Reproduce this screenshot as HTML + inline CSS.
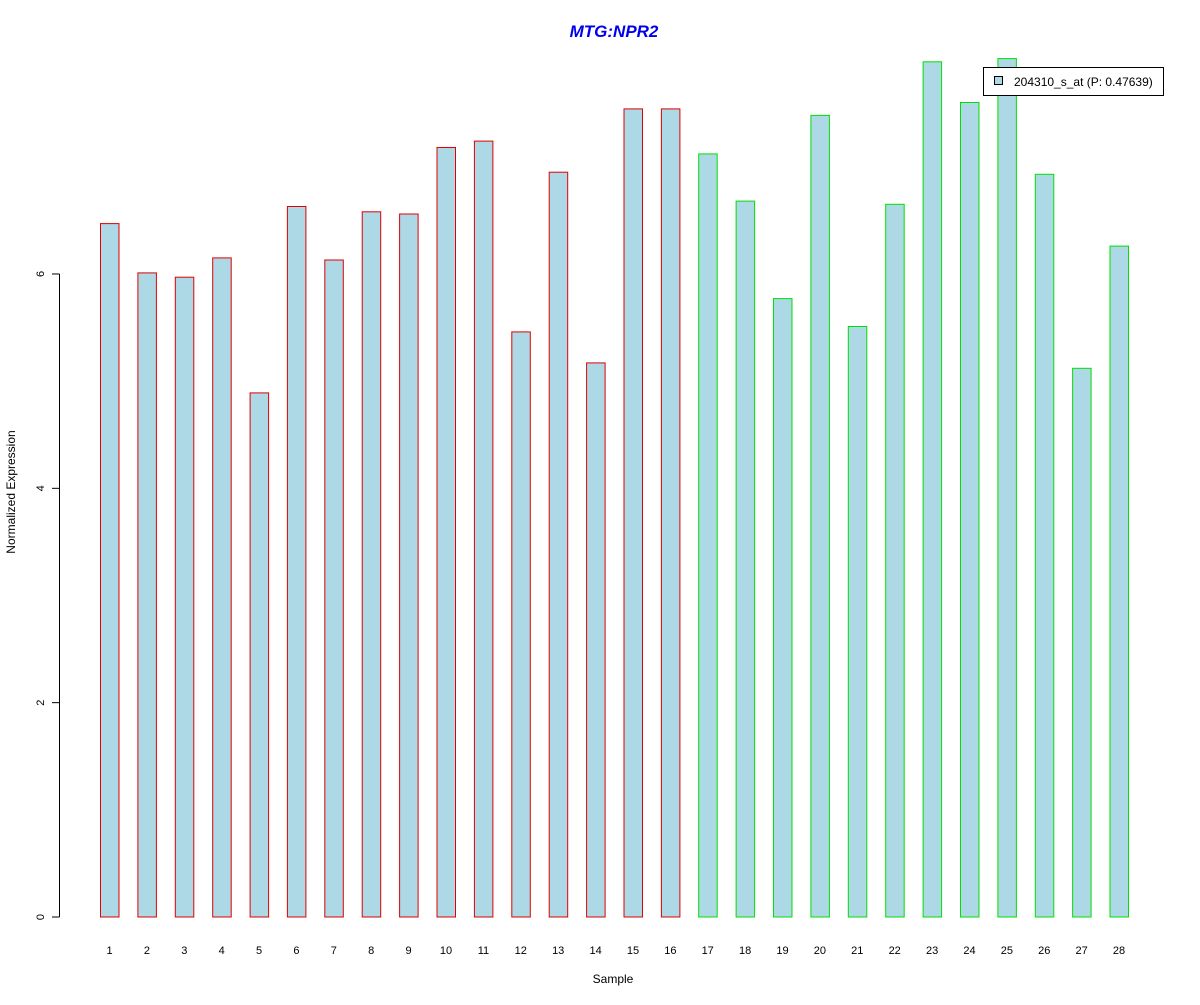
<!DOCTYPE html>
<html><head><meta charset="utf-8"><style>
body{margin:0;background:#fff;}
svg text{font-family:"Liberation Sans",Arial,sans-serif;}
</style></head><body>
<svg id="chart" width="1200" height="1000" xmlns="http://www.w3.org/2000/svg">
<rect width="1200" height="1000" fill="#fff"/>
<text x="614" y="37" text-anchor="middle" font-size="17" font-weight="bold" font-style="italic" fill="#0000ee">MTG:NPR2</text>
<text x="613" y="983" text-anchor="middle" font-size="12">Sample</text>
<text transform="translate(15,492) rotate(-90)" text-anchor="middle" font-size="12">Normalized Expression</text>
<g id="bars"></g>
<g id="yaxis"></g>
<g id="xlabels"></g>
<g>
<rect x="983.5" y="67.5" width="180" height="28" fill="#fff" stroke="#000"/>
<rect x="994.5" y="76.5" width="8" height="8" fill="#add8e6" stroke="#000"/>
<text x="1014" y="86" font-size="12">204310_s_at (P: 0.47639)</text>
</g>
</svg>
<script>
const categories=["1","2","3","4","5","6","7","8","9","10","11","12","13","14","15","16","17","18","19","20","21","22","23","24","25","26","27","28"];
const values=[6.47,6.01,5.97,6.15,4.89,6.63,6.13,6.58,6.56,7.18,7.24,5.46,6.95,5.17,7.54,7.54,7.12,6.68,5.77,7.48,5.51,6.65,7.98,7.60,8.01,6.93,5.12,6.26];
const groups=["r","r","r","r","r","r","r","r","r","r","r","r","r","r","r","r","g","g","g","g","g","g","g","g","g","g","g","g"];
const yTicks=[0,2,4,6];
const NS="http://www.w3.org/2000/svg";
const y=v=>917-v*107.17;
const xc=i=>109.5+i*37.39;
const bars=document.getElementById('bars');
values.forEach((v,i)=>{
  const r=document.createElementNS(NS,'rect');
  
  
  r.setAttribute('x',(xc(i)-9).toFixed(1));
  r.setAttribute('y',y(v).toFixed(1));
  r.setAttribute('width',18.5);
  r.setAttribute('height',(y(0)-y(v)).toFixed(1));
  r.setAttribute('fill','#add8e6');
  r.setAttribute('stroke',groups[i]==='r'?'#e00000':'#00e000');
  bars.appendChild(r);
  const t=document.createElementNS(NS,'text');
  
  
  t.setAttribute('x',xc(i).toFixed(1));
  t.setAttribute('y',954);
  t.setAttribute('text-anchor','middle');
  t.setAttribute('font-size','11');
  t.textContent=categories[i];
  document.getElementById('xlabels').appendChild(t);
});
const ya=document.getElementById('yaxis');
const ln=document.createElementNS(NS,'line');


ln.setAttribute('x1',59.5);ln.setAttribute('x2',59.5);
ln.setAttribute('y1',y(yTicks[0]));ln.setAttribute('y2',y(yTicks[yTicks.length-1]));
ln.setAttribute('stroke','#000');
ya.appendChild(ln);
yTicks.forEach(t=>{
  const tk=document.createElementNS(NS,'line');
  
  
  tk.setAttribute('x1',52);tk.setAttribute('x2',59.5);
  tk.setAttribute('y1',y(t));tk.setAttribute('y2',y(t));
  tk.setAttribute('stroke','#000');
  ya.appendChild(tk);
  const lb=document.createElementNS(NS,'text');
  
  
  lb.setAttribute('transform','translate(44,'+y(t)+') rotate(-90)');
  lb.setAttribute('text-anchor','middle');
  lb.setAttribute('font-size','11');
  lb.textContent=t;
  ya.appendChild(lb);
});
</script>
</body></html>
